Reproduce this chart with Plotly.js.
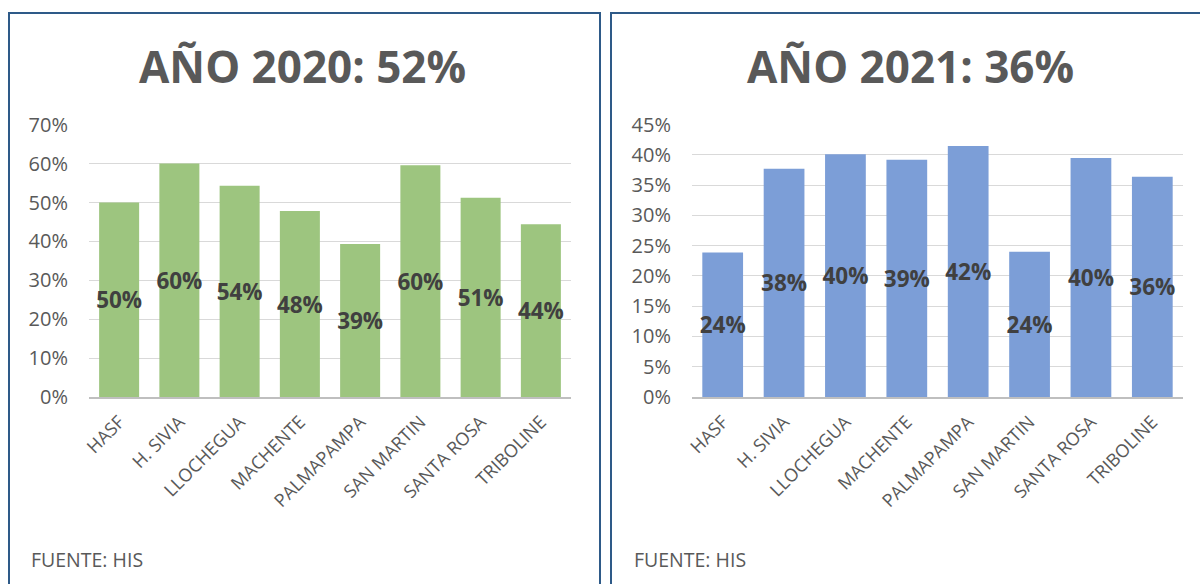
<!DOCTYPE html>
<html>
<head>
<meta charset="utf-8">
<script src="https://cdn.plot.ly/plotly-3.0.1.min.js"></script>
<style>
html,body{margin:0;padding:0;background:#fff;}
#chart{width:1200px;height:584px;}
</style>
</head>
<body>
<div id="chart"></div>
<script>
const categories = ["HASF", "H. SIVIA", "LLOCHEGUA", "MACHENTE", "PALMAPAMPA", "SAN MARTIN", "SANTA ROSA", "TRIBOLINE"];
const values2020 = [0.500, 0.600, 0.543, 0.478, 0.393, 0.596, 0.512, 0.444];
const values2021 = [0.239, 0.377, 0.401, 0.392, 0.415, 0.240, 0.395, 0.364];
const title2020 = "AÑO 2020: 52%";
const title2021 = "AÑO 2021: 36%";
const sourceText = "FUENTE: HIS";
const ticks2020 = [0, 0.1, 0.2, 0.3, 0.4, 0.5, 0.6, 0.7];
const ticks2021 = [0, 0.05, 0.1, 0.15, 0.2, 0.25, 0.3, 0.35, 0.4, 0.45];

const W = 1200, H = 584;
const px = v => v / W;
const py = v => (H - v) / H;
const FONT = "Open Sans, Liberation Sans, sans-serif";
const GRAY = "#595959";

function barTrace(y, color, xa, ya) {
  return {
    type: "bar", x: categories, y: y, xaxis: xa, yaxis: ya,
    marker: {color: color, line: {width: 0}},
    texttemplate: "%{y:.0%}", textposition: "inside", insidetextanchor: "middle",
    textangle: 0, constraintext: "none",
    textfont: {family: FONT, size: 22.5, color: "#404040", weight: "bold"},
    hoverinfo: "skip", cliponaxis: false
  };
}

function yAxis(range, ticks, dom, anchor) {
  return {
    domain: dom, range: range, tickvals: ticks, tickformat: ".0%",
    showgrid: true, gridcolor: "#D9D9D9", gridwidth: 1,
    zeroline: false, showline: false, ticks: "",
    ticklabelstandoff: 20, anchor: anchor,
    tickfont: {family: FONT, size: 20, color: GRAY}, fixedrange: true
  };
}
function xAxis(dom, anchor) {
  return {
    domain: dom, anchor: anchor, tickangle: -45, showline: true, linecolor: "#BFBFBF", linewidth: 1.5,
    ticks: "", showgrid: false, zeroline: false, ticklabelstandoff: 6,
    tickfont: {family: FONT, size: 18, color: GRAY}, fixedrange: true
  };
}

const yDom = [py(397), py(124.7)];
const data = [
  barTrace(values2020, "#9DC57F", "x", "y"),
  barTrace(values2021, "#7C9ED7", "x2", "y2")
];

const layout = {
  width: W, height: H, margin: {l: 0, r: 0, t: 0, b: 0},
  paper_bgcolor: "#fff", plot_bgcolor: "rgba(0,0,0,0)",
  showlegend: false, bargap: 0.336,
  xaxis: xAxis([px(89), px(571)], "y"),
  yaxis: yAxis([0, 0.7], ticks2020, yDom, "x"),
  xaxis2: xAxis([px(692), px(1183)], "y2"),
  yaxis2: yAxis([0, 0.45], ticks2021, yDom, "x2"),
  shapes: [
    {type: "rect", xref: "paper", yref: "paper", x0: px(9), x1: px(600), y0: -0.1, y1: py(13),
     line: {color: "#2E5A88", width: 2}, layer: "above"},
    {type: "rect", xref: "paper", yref: "paper", x0: px(611), x1: px(1215), y0: -0.1, y1: py(13),
     line: {color: "#2E5A88", width: 2}, layer: "above"}
  ],
  annotations: [
    {text: title2020, xref: "paper", yref: "paper", x: px(302.5), y: py(66), xanchor: "center", yanchor: "middle",
     showarrow: false, font: {family: FONT, size: 44, color: GRAY, weight: "bold"}},
    {text: title2021, xref: "paper", yref: "paper", x: px(910), y: py(66), xanchor: "center", yanchor: "middle",
     showarrow: false, font: {family: FONT, size: 44, color: GRAY, weight: "bold"}},
    {text: sourceText, xref: "paper", yref: "paper", x: px(29), y: py(559), xanchor: "left", yanchor: "middle",
     showarrow: false, font: {family: FONT, size: 19.5, color: GRAY}},
    {text: sourceText, xref: "paper", yref: "paper", x: px(632), y: py(559), xanchor: "left", yanchor: "middle",
     showarrow: false, font: {family: FONT, size: 19.5, color: GRAY}}
  ]
};

Plotly.newPlot("chart", data, layout, {displayModeBar: false, staticPlot: true});
</script>
</body>
</html>
